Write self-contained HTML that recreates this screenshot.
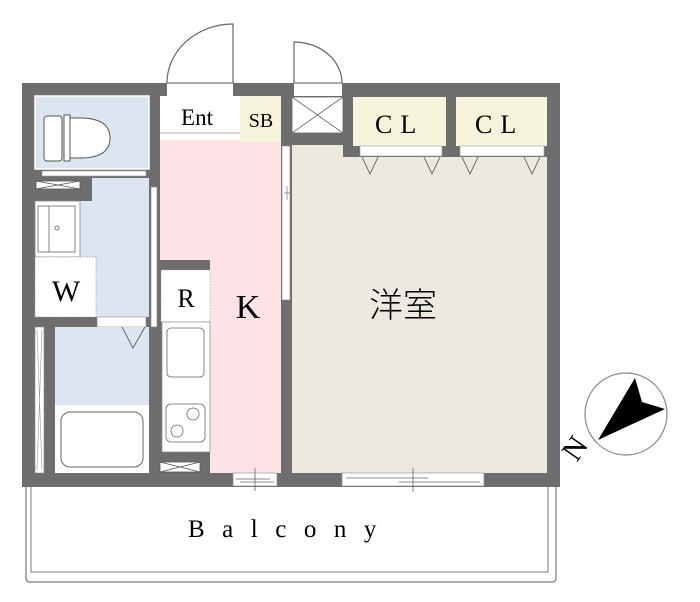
<!DOCTYPE html>
<html><head><meta charset="utf-8"><style>html,body{margin:0;padding:0;background:#fff}svg{display:block}</style></head>
<body>
<svg width="700" height="602" viewBox="0 0 700 602" xmlns="http://www.w3.org/2000/svg" font-family="Liberation Serif, Noto Serif CJK SC, serif">
<!-- balcony -->
<path d="M26 487 V578 Q26 582 30 582 H552 Q556 582 556 578 V487" fill="#fff" stroke="#777" stroke-width="1.2"/>
<path d="M31 487 V572 H548 V487" fill="none" stroke="#777" stroke-width="1"/>
<!-- outer wall block -->
<rect x="22" y="83" width="538" height="404" fill="#6e6e6e"/>
<!-- door openings in top wall -->
<rect x="167" y="83" width="66" height="13" fill="#fff"/>
<rect x="294" y="83" width="48" height="13" fill="#fff"/>
<line x1="167" y1="83" x2="233" y2="83" stroke="#555"/>
<line x1="294" y1="83" x2="342" y2="83" stroke="#555"/>
<!-- doors -->
<path d="M167 83 A66 59 0 0 1 233 24 V83" fill="none" stroke="#666" stroke-width="1.2"/>
<path d="M294 83 V42 A48 41 0 0 1 342 83" fill="none" stroke="#666" stroke-width="1.2"/>
<!-- toilet -->
<rect x="35" y="96" width="114" height="73" fill="#dde5f1" stroke="#fff" stroke-width="1.5"/>
<rect x="44" y="116" width="18" height="45" rx="3" fill="#fff" stroke="#555"/>
<path d="M66 118 H80 Q110 118 110 138 Q110 158 80 158 H66 Z" fill="#fff" stroke="#555"/>
<rect x="64" y="115" width="6" height="46" fill="#fff" stroke="#555"/>
<rect x="42" y="171" width="104" height="5" fill="#fff" stroke="#999" stroke-width=".6"/>
<!-- X vent in wash wall -->
<rect x="36" y="181" width="44" height="8" fill="#fff" stroke="#555" stroke-width=".8"/>
<path d="M36 181 L80 189 M36 189 L80 181" stroke="#555" stroke-width=".8"/>
<!-- wash room -->
<path d="M92 178 H149 V317 H35 V201 H92 Z" fill="#dde5f1"/>
<rect x="35" y="201" width="45" height="56" fill="#fff" stroke="#888" stroke-width=".8"/>
<rect x="38" y="206" width="37" height="46" fill="#fff" stroke="#666" stroke-width=".8"/>
<line x1="49" y1="206" x2="49" y2="252" stroke="#666" stroke-width=".8"/>
<circle cx="57" cy="228" r="2" fill="none" stroke="#555" stroke-width=".8"/>
<rect x="35" y="257" width="61" height="60" fill="#fff" stroke="#999" stroke-width=".7" stroke-dasharray="1.5 1.5"/>
<text x="66" y="301" font-size="30" text-anchor="middle">W</text>
<!-- door strip wash/bath -->
<rect x="97" y="317" width="49" height="10" fill="#fff" stroke="#888" stroke-width=".6"/>
<!-- bath -->
<rect x="55" y="327" width="94" height="78" fill="#dde5f1"/>
<path d="M122 327 L133 348 L145 327" fill="none" stroke="#666" stroke-width="1"/>
<rect x="55" y="405" width="94" height="68" fill="#fff"/>
<rect x="61" y="412" width="82" height="55" rx="9" fill="#fff" stroke="#666" stroke-width="1"/>
<rect x="35" y="327" width="9" height="146" fill="#fff" stroke="#888" stroke-width=".6"/>
<path d="M37 330 L42 470 M42 330 L37 470" stroke="#999" stroke-width=".6"/>
<!-- wall window between wash and K -->
<rect x="151" y="187" width="6" height="140" fill="#fff" stroke="#888" stroke-width=".6"/>
<!-- Ent, SB -->
<rect x="160" y="96" width="80" height="44" fill="#fff"/>
<line x1="160" y1="133" x2="240" y2="133" stroke="#999" stroke-width=".8"/>
<text x="197" y="125" font-size="23" text-anchor="middle">Ent</text>
<rect x="240" y="96" width="41" height="46" fill="#f6f4da"/>
<text x="261" y="127" font-size="20" text-anchor="middle">SB</text>
<!-- K -->
<rect x="160" y="142" width="121" height="331" fill="#fde3e6"/>
<rect x="160" y="140" width="80" height="2" fill="#fde3e6"/>
<text x="248" y="318" font-size="34" text-anchor="middle">K</text>
<!-- R / kitchen -->
<rect x="160" y="260" width="50" height="213" fill="#6e6e6e"/>
<rect x="161" y="270" width="49" height="52" fill="#fff" stroke="#999" stroke-width=".6" stroke-dasharray="1.5 1.5"/>
<text x="186" y="307" font-size="26" text-anchor="middle">R</text>
<rect x="162" y="322" width="48" height="130" fill="#fff" stroke="#888" stroke-width=".7"/>
<rect x="167" y="328" width="37" height="49" rx="4" fill="#fff" stroke="#666" stroke-width=".8"/>
<rect x="166" y="404" width="39" height="38" rx="5" fill="#fff" stroke="#666" stroke-width=".8"/>
<circle cx="193" cy="414" r="6" fill="none" stroke="#666" stroke-width=".8"/>
<circle cx="177" cy="431" r="6" fill="none" stroke="#666" stroke-width=".8"/>
<rect x="160" y="462" width="40" height="10" fill="#fff" stroke="#555" stroke-width=".8"/>
<path d="M160 462 L200 472 M160 472 L200 462" stroke="#555" stroke-width=".8"/>
<!-- K bottom window -->
<rect x="233" y="473" width="44" height="13" fill="#fff" stroke="#888" stroke-width=".6"/>
<path d="M236 479 H270 M240 482 H274 M255 468 V491" stroke="#666" stroke-width=".8"/>
<!-- partition sliding door K / room -->
<rect x="282" y="146" width="8" height="154" fill="#fff" stroke="#888" stroke-width=".6"/>
<path d="M284 193 H296 M287 186 V200" stroke="#777" stroke-width=".7"/>
<!-- X storage -->
<rect x="292" y="97" width="51" height="36" fill="#fff" stroke="#666" stroke-width=".8"/>
<path d="M292 97 L343 133 M292 133 L343 97" stroke="#666" stroke-width=".8"/>
<!-- 洋室 -->
<path d="M292 145 H343 V157 H547 V473 H292 Z" fill="#ece9df"/>
<text x="403" y="317" font-size="34" text-anchor="middle" font-family="Noto Sans CJK JP, sans-serif" font-weight="300">洋室</text>
<!-- CL -->
<rect x="353" y="97" width="93" height="49" fill="#f6f4da"/>
<rect x="456" y="97" width="91" height="49" fill="#f6f4da"/>
<text x="375" y="133" font-size="26" letter-spacing="8">CL</text>
<text x="475" y="133" font-size="26" letter-spacing="8">CL</text>
<rect x="360" y="146" width="82" height="10" fill="#fff" stroke="#999" stroke-width=".6"/>
<rect x="460" y="146" width="84" height="10" fill="#fff" stroke="#999" stroke-width=".6"/>
<path d="M362 157 L370 174 L378 157 M424 157 L432 174 L440 157 M462 157 L470 174 L478 157 M524 157 L532 174 L540 157" fill="none" stroke="#666" stroke-width=".9"/>
<!-- room window -->
<rect x="342" y="473" width="142" height="13" fill="#fff" stroke="#888" stroke-width=".6"/>
<path d="M346 478 H428 M399 482 H480 M413 468 V492" stroke="#666" stroke-width=".8"/>
<!-- balcony text -->
<text x="188" y="537" font-size="25" letter-spacing="17.5">Balcony</text>
<!-- compass -->
<circle cx="626" cy="414" r="41" fill="#fff" stroke="#888" stroke-width="1.2"/>
<polygon points="635,378 642,402 665,409 598,440" fill="#000"/>
<text x="0" y="0" font-size="30" transform="translate(583,454) rotate(-55)" text-anchor="middle">N</text>
</svg>
</body></html>
